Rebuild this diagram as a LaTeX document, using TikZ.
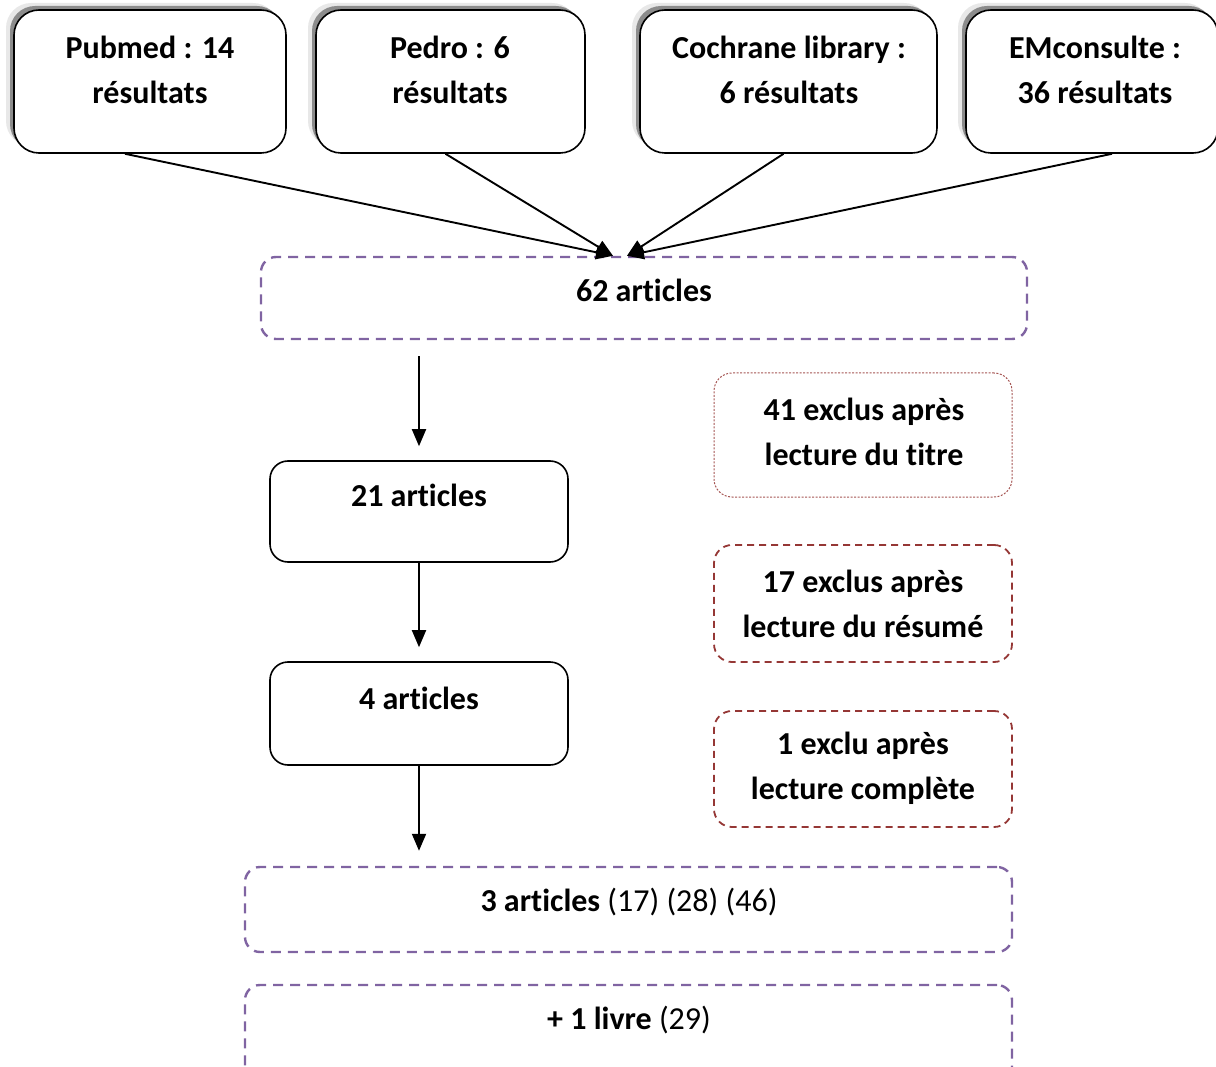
\documentclass[tikz,border=0pt]{standalone}
\usepackage{fontspec}
\setmainfont{Carlito}[Ligatures={NoCommon}]
\usetikzlibrary{arrows.meta}
\usetikzlibrary{shadows}

\definecolor{lilas}{RGB}{128,100,162}
\definecolor{brique}{RGB}{149,55,53}

\begin{document}
\begin{tikzpicture}[x=1pt,y=-1pt,
        every node/.style={font=\fontsize{32}{45}\selectfont\bfseries},
        txt/.style={align=center,inner sep=0pt},
        srcbox/.style={draw,line width=1.6pt,fill=white,rounded corners=25pt,inner sep=0pt,minimum height=143pt,
            general shadow={shadow xshift=-8pt,shadow yshift=7pt,fill=black!9,draw=none},
            general shadow={shadow xshift=-4pt,shadow yshift=4pt,fill=black!45,draw=none}},
        blackbox/.style={draw,line width=1.6pt,rounded corners=18pt,inner sep=0pt,minimum width=298pt},
        purplebox/.style={draw=lilas,line width=2.4pt,dash pattern=on 10pt off 7pt,rounded corners=15pt,inner sep=0pt},
        redbox/.style={draw=brique,line width=1.8pt,dash pattern=on 7pt off 5pt,rounded corners=18pt,inner sep=0pt,minimum width=298pt},
        dotbox/.style={draw=brique!85,line width=1pt,dash pattern=on 2pt off 1.5pt,rounded corners=18pt,inner sep=0pt,minimum width=298pt},
        arr/.style={line width=1.9pt,-{Triangle[length=17pt,width=14pt]}}]

            \useasboundingbox (0,0) rectangle (1216,1067);
            \clip (0,0) rectangle (1216,1067);

            % sources
            \path   (150,81.5) node (pubmed) [srcbox,minimum width=272pt] {}
                    (450.5,81.5) node (pedro) [srcbox,minimum width=269pt] {}
                    (788.5,81.5) node (cochrane) [srcbox,minimum width=297pt] {}
                    (1092,81.5) node (emc) [srcbox,minimum width=252pt] {};

            \path   (150,70) node (pubmedtxt) [txt] {Pubmed : 14\\résultats}
                    (450,70) node (pedrotxt) [txt] {Pedro : 6\\résultats}
                    (789,70) node (cochranetxt) [txt] {Cochrane library :\\6 résultats}
                    (1095,70) node (emctxt) [txt] {EMconsulte :\\36 résultats};

            % tri
            \path   (644,298) node (a62) [purplebox,minimum width=766pt,minimum height=82pt] {}
                    (419,511.5) node (a21) [blackbox,minimum height=101pt] {}
                    (419,713.5) node (a4) [blackbox,minimum height=103pt] {}
                    (863,435) node (x41) [dotbox,minimum height=124pt] {}
                    (863,603.5) node (x17) [redbox,minimum height=117pt] {}
                    (863,769) node (x1) [redbox,minimum height=116pt] {}
                    (628.5,909.5) node (b3) [purplebox,minimum width=767pt,minimum height=85pt] {}
                    (628.5,1045) node (livre) [purplebox,minimum width=767pt,minimum height=120pt] {};

            \path   (644,290) node (a62txt) [txt] {62 articles}
                    (419,495) node (a21txt) [txt] {21 articles}
                    (419,698) node (a4txt) [txt] {4 articles}
                    (864,431.5) node (x41txt) [txt] {41 exclus après\\lecture du titre}
                    (863,603.5) node (x17txt) [txt] {17 exclus après\\lecture du résumé}
                    (863,768.5) node (x1txt) [txt] {1 exclu après\\lecture complète}
                    (629,902) node (b3txt) [txt] {3 articles \mdseries(17) (28) (46)}
                    (629,1020) node (livretxt) [txt] {+ 1 livre \mdseries(29)};

            \coordinate (inl) at ([xshift=-31pt]a62.north);
            \coordinate (inr) at ([xshift=-17pt]a62.north);

            \draw[arr] ([xshift=-25pt]pubmed.south) -- (inl);
            \draw[arr] ([xshift=-5pt]pedro.south) -- (inl);
            \draw[arr] ([xshift=-5pt]cochrane.south) -- (inr);
            \draw[arr] ([xshift=20pt]emc.south) -- (inr);
            \draw[arr,shorten <=16pt,shorten >=14pt] (a21.north |- a62.south) -- (node cs:name =a21,anchor=north);
            \draw[arr,shorten >=14pt] (node cs:name =a21,anchor=south) -- (node cs:name =a4,anchor=north);
            \draw[arr,shorten >=15pt] (node cs:name =a4,anchor=south) -- (a4.south |- b3.north);
        \end{tikzpicture}
\end{document}
